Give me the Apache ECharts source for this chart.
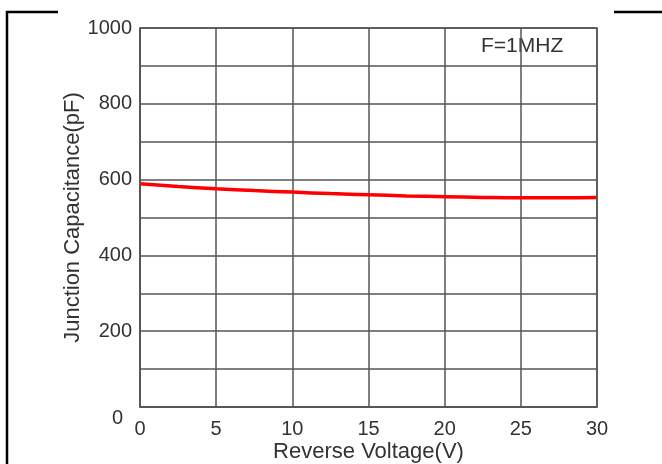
<!DOCTYPE html>
<html>
<head>
<meta charset="utf-8">
<script src="https://cdn.jsdelivr.net/npm/echarts@6/dist/echarts.min.js"></script>
<style>
  html, body { margin: 0; padding: 0; background: #fff; }
  #chart { width: 662px; height: 464px; }
</style>
</head>
<body>
<div id="chart"></div>
<script>
// 数据
var voltage = [0, 2.5, 5, 7.5, 10, 12.5, 15, 17.5, 20, 22.5, 25, 27.5, 30];
var capacitance = [589, 582, 576, 571, 567, 563, 560, 557, 555, 553, 552, 552, 553];
var yTickLabels = [200, 400, 600, 800, 1000];
var xTickLabels = [0, 5, 10, 15, 20, 25, 30];

var chart = echarts.init(document.getElementById("chart"));
var font = "Liberation Sans, Arial, sans-serif";

var option = {
  backgroundColor: "#fff",
  animation: false,
  grid: { left: 140, right: 65, top: 28, bottom: 57, outerBoundsMode: "none", containLabel: false },
  xAxis: {
    type: "value",
    min: 0,
    max: 30,
    interval: 5,
    name: "Reverse Voltage(V)",
    nameLocation: "middle",
    nameGap: 34,
    nameMoveOverlap: false,
    nameTextStyle: { color: "#333", fontSize: 22, fontFamily: font },
    axisLine: { show: true, lineStyle: { color: "#555", width: 1.5 } },
    axisTick: { show: false },
    axisLabel: {
      color: "#333",
      fontSize: 20,
      fontFamily: font,
      margin: 12,
      formatter: function (v) {
        return xTickLabels.indexOf(v) >= 0 ? String(v) : "";
      },
    },
    splitLine: { show: true, lineStyle: { color: "#555", width: 1.5 } },
  },
  yAxis: {
    type: "value",
    min: 0,
    max: 1000,
    interval: 100,
    name: "Junction Capacitance(pF)",
    nameLocation: "middle",
    nameGap: 56,
    nameMoveOverlap: false,
    nameTextStyle: { color: "#333", fontSize: 22, fontFamily: font },
    axisLine: { show: true, lineStyle: { color: "#555", width: 1.5 } },
    axisTick: { show: false },
    axisLabel: {
      color: "#333",
      fontSize: 20,
      fontFamily: font,
      margin: 8,
      formatter: function (v) {
        return yTickLabels.indexOf(v) >= 0 ? String(v) : "";
      },
    },
    splitLine: { show: true, lineStyle: { color: "#555", width: 1.5 } },
  },
  graphic: [
    // 外框
    { type: "polyline", shape: { points: [[58, 12], [7, 12], [7, 464]] }, style: { stroke: "#000", lineWidth: 2.5, fill: null } },
    { type: "line", shape: { x1: 614, y1: 12, x2: 662, y2: 12 }, style: { stroke: "#000", lineWidth: 2.5 } },
    { type: "rect", shape: { x: 140, y: 28, width: 457, height: 379 }, style: { stroke: "#555", lineWidth: 1.5, fill: null }, z: 10 },
    { type: "text", left: 112, top: 408, style: { text: "0", fill: "#333", fontSize: 20, fontFamily: font } },
    { type: "text", left: 481, top: 36, style: { text: "F=1MHZ", fill: "#333", fontSize: 21, fontFamily: font } },
  ],
  series: [
    {
      type: "line",
      smooth: true,
      symbol: "none",
      lineStyle: { color: "#ff0000", width: 3.5 },
      data: voltage.map(function (x, i) {
        return [x, capacitance[i]];
      }),
      z: 5,
    },
  ],
};
chart.setOption(option);
</script>
</body>
</html>
